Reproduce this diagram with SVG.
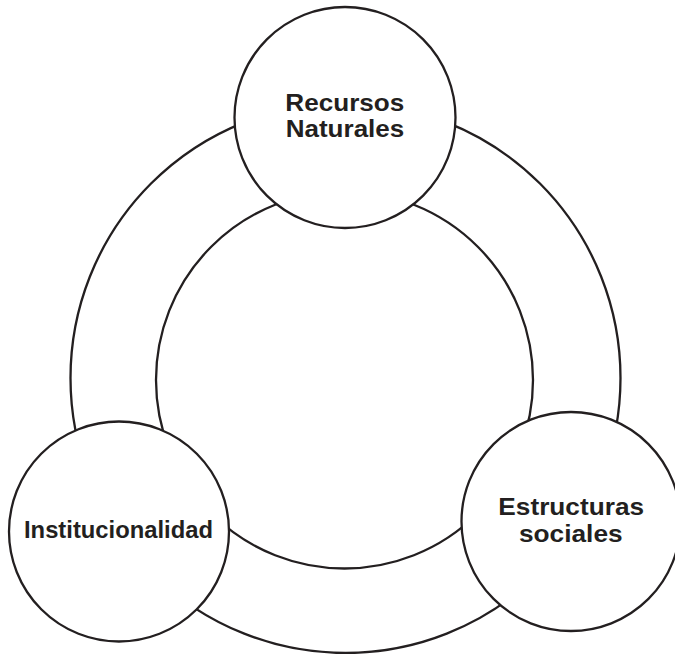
<svg xmlns="http://www.w3.org/2000/svg" width="675" height="654" viewBox="0 0 675 654">
  <style>
    .ring { fill: none; stroke: #231f20; stroke-width: 2.3; }
    .node { fill: #ffffff; stroke: #231f20; stroke-width: 2.3; }
    .label { font-family: "Liberation Sans", Arial, sans-serif; font-weight: bold; font-size: 24px; fill: #231f20; text-anchor: middle; }
  </style>
  <rect width="675" height="654" fill="#ffffff"/>
  <g id="connectors">
    <circle class="ring" cx="345.5" cy="378" r="275"/>
    <circle class="ring" cx="344.5" cy="380" r="188.5"/>
  </g>
  <g id="recursos-naturales">
    <circle class="node" cx="345" cy="117.5" r="110.5"/>
    <text class="label" x="344.8" y="110.7" textLength="119" lengthAdjust="spacingAndGlyphs">Recursos</text>
    <text class="label" x="345" y="136.7" textLength="118.6" lengthAdjust="spacingAndGlyphs">Naturales</text>
  </g>
  <g id="institucionalidad">
    <circle class="node" cx="119" cy="531.5" r="110"/>
    <text class="label" x="118.5" y="537.7" textLength="189" lengthAdjust="spacingAndGlyphs">Institucionalidad</text>
  </g>
  <g id="estructuras-sociales">
    <circle class="node" cx="571" cy="521.5" r="109.5"/>
    <text class="label" x="571.2" y="515" textLength="145.7" lengthAdjust="spacingAndGlyphs">Estructuras</text>
    <text class="label" x="570.8" y="541.7" textLength="103.7" lengthAdjust="spacingAndGlyphs">sociales</text>
  </g>
</svg>
